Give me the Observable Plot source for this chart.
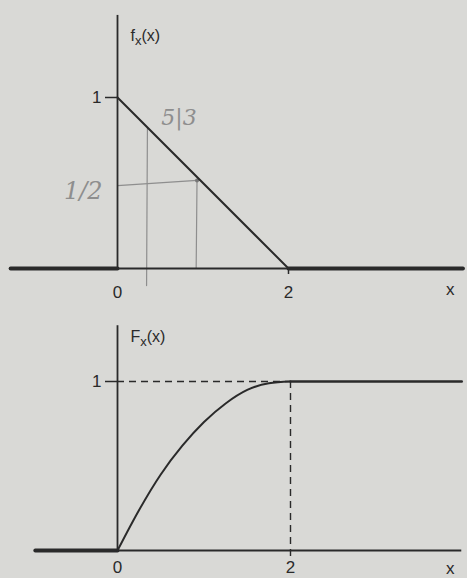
<!DOCTYPE html>
<html><head><meta charset="utf-8">
<script src="https://cdn.jsdelivr.net/npm/d3@7"></script>
<script src="https://cdn.jsdelivr.net/npm/@observablehq/plot@0.6"></script>
<style>
html,body{margin:0;padding:0;background:#d9d9d6;}
#chart{width:467px;height:578px;overflow:hidden;}
#chart svg{display:block;}
</style></head><body><div id="chart"></div>
<script>
const ink = "#2a2a2a";
const pencil = "#8e8e8e";
const font = "'Liberation Sans', Arial, sans-serif";

// Density f_X(x): straight line from (0,1) down to (2,0), zero elsewhere
const pdfX = [0, 2];
const pdfY = [1, 0];
const pdfZeroLeft = [-1.25, 0];
const pdfZeroRight = [2, 4.04];

// Distribution F_X(x): readings along the curve from 0 to 2
const cdfX = [0, 0.25, 0.5, 0.75, 1, 1.25, 1.5, 1.75, 2];
const cdfY = [0, 0.24, 0.45, 0.62, 0.76, 0.87, 0.95, 0.99, 1];
const cdfZeroLeft = [-0.95, 0];
const cdfOneRight = [2, 3.98];

const xTicks = [0, 2];
const yTicks = [1];

// pencil notes on the density
const noteH = {x: [0, 0.93], y: [0.485, 0.515]};
const noteV1 = {x: [0.35, 0.34], y: [0.82, -0.1]};
const noteV2 = {x: [0.93, 0.92], y: [0.515, 0]};
const noteDot = {x: 0.93, y: 0.515};

const seg = (xs, ys) => xs.map((x, i) => ({x, y: ys[i]}));
const plain = (d) => String(d);

const pdfPlot = Plot.plot({
  width: 467, height: 306,
  marginLeft: 117, marginBottom: 38, marginTop: 0, marginRight: 10,
  x: {domain: [0, 2], range: [117, 288]},
  y: {domain: [0, 1], range: [268, 97]},
  style: {background: "transparent", fontFamily: font, fontSize: "17px", color: ink},
  marks: [
    // pencil annotations
    Plot.line(seg(noteH.x, noteH.y), {x: "x", y: "y", stroke: pencil, strokeWidth: 1.2}),
    Plot.line(seg(noteV1.x, noteV1.y), {x: "x", y: "y", stroke: pencil, strokeWidth: 1.2}),
    Plot.line(seg(noteV2.x, noteV2.y), {x: "x", y: "y", stroke: pencil, strokeWidth: 1.2}),
    Plot.dot([noteDot], {x: "x", y: "y", r: 2, fill: "#777", stroke: null}),
    Plot.text(["5|3"], {x: 0.72, y: 0.88, fill: pencil, fontSize: 22, fontFamily: "'DejaVu Serif', serif", fontStyle: "italic"}),
    Plot.text(["1/2"], {x: -0.4, y: 0.45, fill: pencil, fontSize: 24, fontFamily: "'DejaVu Serif', serif", fontStyle: "italic"}),
    // axes lines
    Plot.ruleY([0], {x1: pdfZeroLeft[0], x2: pdfZeroRight[1], stroke: ink, strokeWidth: 1.8}),
    Plot.ruleX([0], {y1: 0, y2: 1.48, stroke: ink, strokeWidth: 1.8}),
    // density
    Plot.line(seg(pdfZeroLeft, [0, 0]), {x: "x", y: "y", stroke: ink, strokeWidth: 4}),
    Plot.line(seg(pdfZeroRight, [0, 0]), {x: "x", y: "y", stroke: ink, strokeWidth: 4}),
    Plot.line(seg(pdfX, pdfY), {x: "x", y: "y", stroke: ink, strokeWidth: 2}),
    // ticks and labels
    Plot.axisX(xTicks, {y: 0, tickSize: 0, tickPadding: 17, label: null, fontSize: 17, tickFormat: plain}),
    Plot.axisX([2], {y: 0, tickSize: 6, tickFormat: () => "", label: null, strokeWidth: 1.5}),
    Plot.axisY(yTicks, {tickSize: 12, tickPadding: 4, label: null, fontSize: 17, strokeWidth: 1.5, tickFormat: plain}),
    Plot.text(["x"], {frameAnchor: "right", y: 0, dx: -3, dy: 21, fontSize: 17, fill: ink}),
    Plot.text(["f_x(x)"], {frameAnchor: "top-left", dx: 13, dy: 29, textAnchor: "start", fontSize: 16, fill: ink})
  ]
});

const cdfPlot = Plot.plot({
  width: 467, height: 272,
  marginLeft: 117, marginBottom: 28, marginTop: 0, marginRight: 10,
  x: {domain: [0, 2], range: [117, 290]},
  y: {domain: [0, 1], range: [244, 75]},
  style: {background: "transparent", fontFamily: font, fontSize: "17px", color: ink},
  marks: [
    Plot.ruleY([0], {x1: cdfZeroLeft[0], x2: cdfOneRight[1], stroke: ink, strokeWidth: 1.8}),
    Plot.ruleX([0], {y1: 0, y2: 1.33, stroke: ink, strokeWidth: 1.8}),
    // guides to the level 1 and to x = 2
    Plot.ruleY([1], {x1: 0, x2: 2, stroke: ink, strokeWidth: 1.4, strokeDasharray: "7,5"}),
    Plot.ruleX([2], {y1: 1, y2: -0.05, stroke: ink, strokeWidth: 1.4, strokeDasharray: "7,5"}),
    // distribution function
    Plot.line(seg(cdfZeroLeft, [0, 0]), {x: "x", y: "y", stroke: ink, strokeWidth: 4}),
    Plot.line(seg(cdfX, cdfY), {x: "x", y: "y", stroke: ink, strokeWidth: 2, curve: "monotone-x"}),
    Plot.line(seg(cdfOneRight, [1, 1]), {x: "x", y: "y", stroke: ink, strokeWidth: 2.4}),
    // ticks and labels
    Plot.axisX(xTicks, {y: 0, tickSize: 0, tickPadding: 10, label: null, fontSize: 17, tickFormat: plain}),
    Plot.axisY(yTicks, {tickSize: 12, tickPadding: 4, label: null, fontSize: 17, strokeWidth: 1.5, tickFormat: plain}),
    Plot.text(["x"], {frameAnchor: "right", y: 0, dx: -3, dy: 18, fontSize: 17, fill: ink}),
    Plot.text(["F_x(x)"], {frameAnchor: "top-left", dx: 13, dy: 24, textAnchor: "start", fontSize: 16, fill: ink})
  ]
});

// typeset the subscript x in the axis titles
for (const svg of [pdfPlot, cdfPlot]) {
  d3.select(svg).selectAll("text").each(function () {
    const t = this.textContent;
    if (t.includes("_x")) {
      const [head, tail] = t.split("_x");
      const el = d3.select(this).text(null);
      el.append("tspan").text(head);
      el.append("tspan").attr("dy", 4).attr("font-size", 13).text("x");
      el.append("tspan").attr("dy", -4).text(tail);
    }
  });
}

const chart = document.getElementById("chart");
chart.append(pdfPlot, cdfPlot);
</script></body></html>
